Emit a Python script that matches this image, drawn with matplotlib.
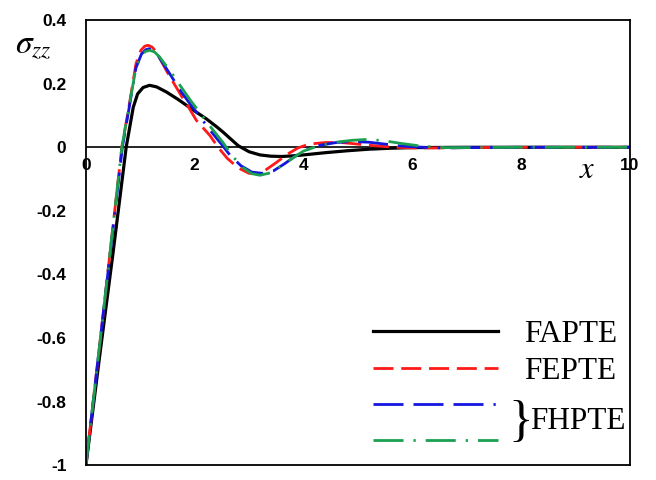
import numpy as np
import matplotlib.pyplot as plt

# FAPTE (black, solid)
x_fapte = [0, 0.25, 0.5, 0.74, 0.87, 0.95, 1.05, 1.17, 1.3, 1.48, 1.7, 1.85, 2.0, 2.21, 2.4, 2.52, 2.65, 2.8,
           3.0, 3.2, 3.4, 3.6, 3.8, 4.0, 4.4, 4.8, 5.2, 5.6, 6.0, 7.0, 8.0, 9.0, 10.0]
y_fapte = [-1.0, -0.66, -0.33, 0.0, 0.126, 0.168, 0.188, 0.195, 0.19, 0.174, 0.15, 0.132, 0.114, 0.09, 0.065, 0.048,
           0.028, 0.005, -0.014, -0.024, -0.028, -0.029, -0.027, -0.024, -0.017, -0.011, -0.006, -0.003, -0.001,
           0.0, 0.0, 0.0, 0.0]

# FEPTE (red, dashed)
x_fepte = [0, 0.3, 0.66, 0.8, 0.92, 1.01, 1.08, 1.14, 1.22, 1.3, 1.5, 1.75, 1.85, 2.03, 2.28, 2.43, 2.6, 2.8,
           3.0, 3.15, 3.3, 3.5, 3.7, 3.9, 4.1, 4.4, 4.7, 5.0, 5.3, 5.6, 6.0, 6.5, 7.0, 8.0, 9.0, 10.0]
y_fepte = [-1.0, -0.55, 0.0, 0.137, 0.263, 0.305, 0.318, 0.321, 0.315, 0.298, 0.235, 0.163, 0.137, 0.085, 0.037,
           0.0, -0.035, -0.065, -0.082, -0.083, -0.072, -0.048, -0.022, -0.002, 0.01, 0.015, 0.015, 0.01, 0.005,
           0.001, -0.002, -0.002, -0.001, 0.0, 0.0, 0.0]

# FHPTE (blue, long dash with dot)
x_fhpte1 = [0, 0.3, 0.67, 0.8, 0.92, 1.02, 1.1, 1.16, 1.24, 1.32, 1.52, 1.75, 1.9, 2.08, 2.3, 2.5, 2.65, 2.85,
            3.05, 3.25, 3.45, 3.65, 3.85, 4.05, 4.3, 4.6, 4.9, 5.2, 5.5, 5.8, 6.2, 6.6, 7.0, 8.0, 9.0, 10.0]
y_fhpte1 = [-1.0, -0.55, 0.0, 0.13, 0.25, 0.293, 0.307, 0.31, 0.305, 0.29, 0.237, 0.175, 0.14, 0.1, 0.05,
            0.008, -0.025, -0.058, -0.078, -0.082, -0.074, -0.052, -0.028, -0.008, 0.006, 0.015, 0.018, 0.016,
            0.01, 0.004, 0.0, -0.002, -0.001, 0.0, 0.0, 0.0]

# FHPTE (green, dash-dot)
x_fhpte2 = [0, 0.3, 0.66, 0.8, 0.92, 1.02, 1.1, 1.18, 1.26, 1.35, 1.55, 1.75, 1.92, 2.1, 2.32, 2.52, 2.68, 2.88,
            3.05, 3.2, 3.4, 3.6, 3.8, 4.0, 4.3, 4.6, 4.9, 5.2, 5.5, 5.8, 6.2, 6.6, 7.0, 8.0, 9.0, 10.0]
y_fhpte2 = [-1.0, -0.55, 0.0, 0.135, 0.25, 0.29, 0.302, 0.305, 0.3, 0.285, 0.24, 0.19, 0.148, 0.108, 0.058,
            0.015, -0.025, -0.063, -0.083, -0.088, -0.08, -0.058, -0.034, -0.012, 0.006, 0.016, 0.022, 0.025,
            0.02, 0.012, 0.003, -0.001, -0.001, 0.0, 0.0, 0.0]

x_ticks = [0, 2, 4, 6, 8, 10]
y_ticks = [0.4, 0.2, 0, -0.2, -0.4, -0.6, -0.8, -1]
y_ticklabels = ['0.4', '0.2', '0', '-0.2', '-0.4', '-0.6', '-0.8', '-1']

plt.rcParams['font.family'] = ['Liberation Sans', 'DejaVu Sans']
plt.rcParams['mathtext.fontset'] = 'stix'

fig = plt.figure(figsize=(6.56, 4.8), dpi=100)
ax = fig.add_axes([0.131, 0.031, 0.829, 0.927])

lw = 2.0
ax.plot(x_fapte, y_fapte, color='black', lw=lw + 0.3, label='FAPTE')
ax.plot(x_fepte, y_fepte, color='#ff1a1a', lw=lw, dashes=(7.2, 2.8), label='FEPTE')
ax.plot(x_fhpte1, y_fhpte1, color='#1515e0', lw=lw,
        dashes=(10.8, 3.6, 10.8, 3.6, 10.8, 3.6, 0.8, 3.6), label=' ')
ax.plot(x_fhpte2, y_fhpte2, color='#1aa050', lw=lw, dashes=(10.8, 3.6, 0.8, 3.6), label='  ')

ax.axhline(0, color='black', lw=1.2, zorder=1)

ax.set_xlim(0, 10)
ax.set_ylim(-1, 0.4)
for sp in ax.spines.values():
    sp.set_linewidth(1.3)

ax.set_yticks(y_ticks)
ax.set_yticklabels(y_ticklabels, fontweight='bold', fontsize=12.5)
ax.tick_params(axis='y', length=0, pad=14)
ax.set_xticks([])

# x tick labels sit under the zero line
for t in x_ticks:
    ax.annotate(str(t), (t, 0), xytext=(0, -8), textcoords='offset points',
                ha='center', va='top', fontweight='bold', fontsize=12.5)

fig.text(0.050, 0.906, r'$\sigma_{zz}$', fontsize=24, ha='center', va='center')
ax.text(9.21, -0.07, r'$x$', fontsize=22, ha='center', va='center')

leg = ax.legend(loc='lower right', bbox_to_anchor=(1.0, -0.012), borderaxespad=0, frameon=False,
                handlelength=4.0, labelspacing=0.23, handletextpad=0.85,
                prop={'family': 'Liberation Serif', 'size': 22.5})

ax.text(0.777, 0.096, '}', transform=ax.transAxes, fontsize=37, family='Liberation Serif',
        ha='left', va='center')
ax.text(0.816, 0.098, 'FHPTE', transform=ax.transAxes, fontsize=22.5, family='Liberation Serif',
        ha='left', va='center')

fig.savefig('out.png', dpi=100)
